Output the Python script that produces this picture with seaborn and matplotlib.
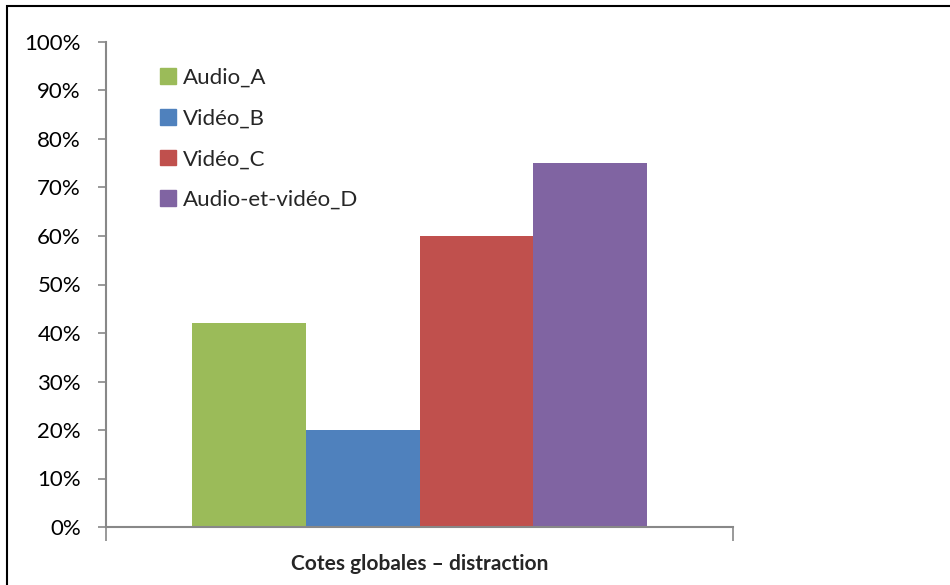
import matplotlib
matplotlib.use("Agg")
import matplotlib.pyplot as plt
import matplotlib.patches as mpatches
from matplotlib.ticker import PercentFormatter, FixedLocator, NullFormatter
import seaborn as sns
import pandas as pd

category = ["Cotes globales – distraction"]
series = ["Audio_A", "Vidéo_B", "Vidéo_C", "Audio-et-vidéo_D"]
values = [42, 20, 60, 75]
colors = ["#9BBB59", "#4F81BD", "#C0504D", "#8064A2"]

df = pd.DataFrame({
    "cat": category * len(series),
    "series": series,
    "value": values,
})

sns.set_theme(style="white")
plt.rcParams["font.family"] = ["Lato", "DejaVu Sans"]

fig = plt.figure(figsize=(9.5, 5.85), dpi=100)
ax = fig.add_axes([106 / 950, 1 - 527 / 585, (733 - 106) / 950, (527 - 42) / 585])

sns.barplot(data=df, x="cat", y="value", hue="series", hue_order=series,
            palette=colors, width=0.727, saturation=1, ax=ax, legend=True)
for p in ax.patches:
    p.set_linewidth(0)

ax.set_ylim(0, 100)
ax.set_xlim(-0.5, 0.5)
ax.set_yticks(range(0, 101, 10))
ax.yaxis.set_major_formatter(PercentFormatter(decimals=0))
ax.tick_params(axis="y", labelsize=16, length=6, width=1.2, color="#888888",
               left=True, pad=12, labelcolor="black")

ax.set_xticks([])
ax.xaxis.set_minor_locator(FixedLocator([-0.5, 0.5]))
ax.xaxis.set_minor_formatter(NullFormatter())
ax.tick_params(axis="x", which="minor", bottom=True, length=10, width=1.2,
               color="#888888", direction="out")
ax.set_xlabel("Cotes globales – distraction", fontsize=15, fontweight="bold",
              labelpad=6)
ax.set_ylabel("")

for side in ["top", "right"]:
    ax.spines[side].set_visible(False)
for side in ["left", "bottom"]:
    ax.spines[side].set_color("#888888")
    ax.spines[side].set_linewidth(1.5)

handles = [mpatches.Patch(color=c, label=s) for s, c in zip(series, colors)]
ax.legend(handles=handles, loc="upper left", bbox_to_anchor=(0.072, 0.965),
          frameon=False, fontsize=16, handlelength=0.7, handleheight=0.7,
          handletextpad=0.35, labelspacing=0.93, borderaxespad=0)

# chart border along the top and left edges
fig.add_artist(mpatches.Rectangle((7 / 950, -0.05), 1.1, (1 - 6 / 585) + 0.05,
                                  transform=fig.transFigure, fill=False,
                                  edgecolor="black", linewidth=1.5))

fig.savefig("out.png", dpi=100, facecolor="white")
